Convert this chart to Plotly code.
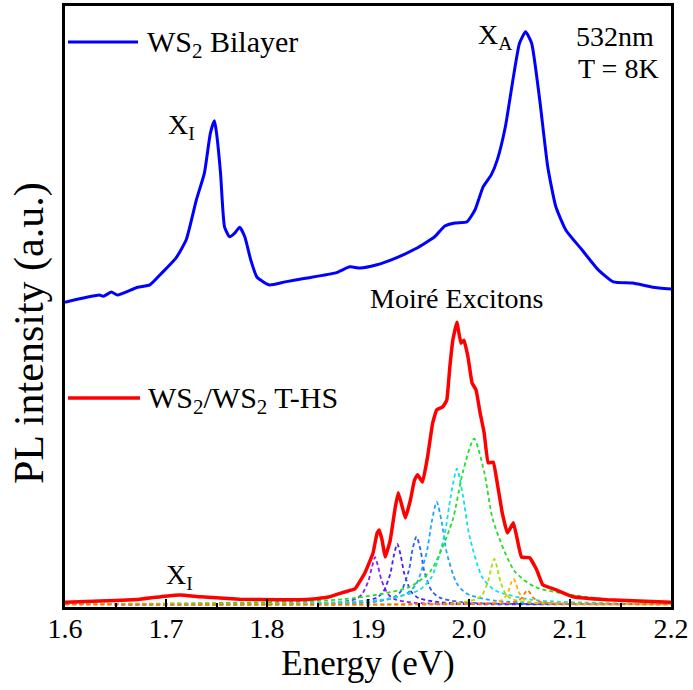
import plotly.graph_objects as go

# ---------------- data ----------------
bilayer_E = [1.600, 1.618, 1.634, 1.638, 1.646, 1.652, 1.672, 1.684, 1.696, 1.710,
             1.720, 1.730, 1.738, 1.744, 1.748, 1.750, 1.754, 1.758, 1.763, 1.768,
             1.773, 1.778, 1.784, 1.790, 1.802, 1.818, 1.838, 1.868, 1.882, 1.892,
             1.908, 1.928, 1.947, 1.966, 1.976, 1.986, 1.998, 2.006, 2.014, 2.022,
             2.028, 2.036, 2.043, 2.050, 2.056, 2.062, 2.070, 2.078, 2.086, 2.096,
             2.112, 2.128, 2.143, 2.162, 2.182, 2.200]
bilayer_I = [50.7, 51.4, 51.9, 51.7, 52.4, 51.9, 53.2, 53.6, 55.6, 58.1,
             61.1, 67.7, 72.2, 78.9, 80.9, 78.9, 72.2, 63.2, 61.6, 62.2,
             63.2, 61.6, 57.7, 54.9, 53.6, 54.1, 54.7, 55.6, 56.6, 56.4,
             56.9, 58.1, 59.6, 61.6, 63.4, 63.9, 64.1, 66.1, 69.9, 71.9,
             74.4, 79.9, 87.2, 93.8, 95.7, 93.8, 84.4, 73.2, 66.6, 62.7,
             59.4, 56.1, 54.1, 53.9, 53.2, 52.9]

ths_E = [1.600, 1.635, 1.674, 1.699, 1.714, 1.734, 1.773, 1.813, 1.843, 1.862,
         1.877, 1.887, 1.897, 1.905, 1.909, 1.911, 1.914, 1.917, 1.922, 1.927,
         1.930, 1.934, 1.937, 1.942, 1.946, 1.949, 1.954, 1.959, 1.964, 1.968,
         1.974, 1.978, 1.981, 1.984, 1.988, 1.992, 1.995, 1.999, 2.003, 2.007,
         2.011, 2.015, 2.019, 2.024, 2.028, 2.033, 2.038, 2.044, 2.048, 2.052,
         2.060, 2.067, 2.073, 2.087, 2.103, 2.137, 2.200]
ths_I = [0.8, 1.0, 1.3, 1.8, 2.0, 1.7, 1.3, 1.2, 1.3, 1.7,
         2.5, 3.0, 5.7, 9.0, 12.3, 12.8, 11.1, 8.3, 11.1, 16.6,
         19.0, 16.6, 14.8, 17.8, 21.1, 22.0, 20.8, 25.0, 30.6, 32.8,
         33.3, 34.4, 39.9, 44.4, 47.4, 43.9, 44.4, 41.6, 37.3, 36.1,
         32.3, 29.0, 24.0, 24.1, 20.6, 15.6, 12.3, 14.0, 11.1, 8.3,
         8.2, 6.2, 3.7, 2.8, 1.7, 1.2, 0.8]

# fitted moiré exciton components (dashed)
c1_E = [1.600, 1.868, 1.8875, 1.894, 1.9005, 1.904, 1.907, 1.910, 1.9135, 1.920, 1.9265, 1.946, 2.200]
c1_I = [0.5, 0.7, 1.3, 2.1, 4.4, 6.7, 8.3, 6.7, 4.4, 2.1, 1.3, 0.7, 0.5]
c2_E = [1.600, 1.887, 1.908, 1.915, 1.922, 1.9255, 1.929, 1.9325, 1.936, 1.943, 1.950, 1.971, 2.200]
c2_I = [0.5, 0.8, 1.5, 2.5, 5.5, 8.5, 10.5, 8.5, 5.5, 2.5, 1.5, 0.8, 0.5]
c3_E = [1.600, 1.903, 1.9255, 1.933, 1.9405, 1.944, 1.948, 1.952, 1.9555, 1.963, 1.9705, 1.993, 2.200]
c3_I = [0.5, 0.8, 1.6, 2.7, 6.1, 9.5, 11.7, 9.5, 6.1, 2.7, 1.6, 0.8, 0.5]
c4_E = [1.600, 1.908, 1.938, 1.948, 1.958, 1.963, 1.968, 1.973, 1.978, 1.988, 1.998, 2.028, 2.200]
c4_I = [0.5, 1.0, 2.2, 3.9, 9.0, 14.1, 17.5, 14.1, 9.0, 3.9, 2.2, 1.0, 0.5]
c5_E = [1.600, 1.913, 1.9505, 1.963, 1.9755, 1.982, 1.988, 1.994, 2.0005, 2.013, 2.0255, 2.063, 2.200]
c5_I = [0.5, 1.2, 2.8, 5.0, 11.8, 18.5, 23.0, 18.5, 11.8, 5.0, 2.8, 1.2, 0.5]
c6_E = [1.600, 1.876, 1.9405, 1.962, 1.9835, 1.994, 2.005, 2.015, 2.024, 2.045, 2.066, 2.134, 2.200]
c6_I = [0.5, 1.3, 3.3, 6.0, 14.3, 22.5, 28.0, 22.5, 14.3, 6.0, 3.3, 1.3, 0.6]
c7_E = [1.600, 1.989, 2.007, 2.013, 2.019, 2.022, 2.025, 2.028, 2.031, 2.037, 2.043, 2.061, 2.200]
c7_I = [0.5, 0.7, 1.3, 2.0, 4.3, 6.5, 8.0, 6.5, 4.3, 2.0, 1.3, 0.7, 0.5]
c8_E = [1.600, 2.014, 2.029, 2.034, 2.039, 2.0415, 2.044, 2.0465, 2.049, 2.054, 2.059, 2.074, 2.200]
c8_I = [0.5, 0.6, 0.9, 1.3, 2.6, 3.9, 4.7, 3.9, 2.6, 1.3, 0.9, 0.6, 0.5]
c9_E = [1.600, 2.028, 2.043, 2.048, 2.053, 2.0555, 2.058, 2.0605, 2.063, 2.068, 2.073, 2.088, 2.200]
c9_I = [0.4, 0.55, 0.75, 1.0, 1.65, 2.35, 2.8, 2.35, 1.65, 1.0, 0.75, 0.55, 0.4]

comp_E = [c1_E, c2_E, c3_E, c4_E, c5_E, c6_E, c7_E, c8_E, c9_E]
comp_I = [c1_I, c2_I, c3_I, c4_I, c5_I, c6_I, c7_I, c8_I, c9_I]
comp_colors = ["#8a1cff", "#4a1cff", "#2a5cff", "#1aa6ff", "#10e0e8",
               "#22e022", "#a8e000", "#ffb000", "#ff7010"]

x_ticks = [1.6, 1.7, 1.8, 1.9, 2.0, 2.1, 2.2]
x_tick_text = ["1.6", "1.7", "1.8", "1.9", "2.0", "2.1", "2.2"]

FONT = "Times New Roman, Liberation Serif, serif"

fig = go.Figure()
for E, I, col in zip(comp_E, comp_I, comp_colors):
    fig.add_trace(go.Scatter(x=E, y=I, mode="lines", showlegend=False,
                             line=dict(color=col, width=1.8, dash="4px,3px",
                                       shape="spline", smoothing=0.7)))
fig.add_trace(go.Scatter(x=ths_E, y=ths_I, mode="lines", name="WS2/WS2 T-HS",
                         showlegend=False,
                         line=dict(color="#ff0000", width=3.5, shape="spline", smoothing=0.3)))
fig.add_trace(go.Scatter(x=bilayer_E, y=bilayer_I, mode="lines", name="WS2 Bilayer",
                         showlegend=False,
                         line=dict(color="#0000ff", width=3, shape="spline", smoothing=0.5)))

def px_x(px):
    return (px - 65) / 606

def px_y(py):
    return (607 - py) / 601

# legend-like samples
fig.add_shape(type="line", xref="paper", yref="paper", x0=px_x(68), x1=px_x(138),
              y0=px_y(42), y1=px_y(42), line=dict(color="#0000ff", width=3))
fig.add_shape(type="line", xref="paper", yref="paper", x0=px_x(68), x1=px_x(140),
              y0=px_y(398), y1=px_y(398), line=dict(color="#ff0000", width=3.5))

ann = [
    ("WS<sub>2</sub> Bilayer", px_x(145), px_y(44), "left", 30),
    ("WS<sub>2</sub>/WS<sub>2</sub> T-HS", px_x(146), px_y(400), "left", 30),
    ("X<sub>I</sub>", px_x(181), px_y(126), "center", 28),
    ("X<sub>I</sub>", px_x(179), px_y(576), "center", 28),
    ("X<sub>A</sub>", px_x(495), px_y(37), "center", 28),
    ("532nm", px_x(574), px_y(37), "left", 28),
    ("T = 8K", px_x(576), px_y(68), "left", 28),
    ("Moiré Excitons", px_x(457), px_y(298), "center", 28),
]
for txt, x, y, xa, sz in ann:
    fig.add_annotation(text=txt, x=x, y=y, xref="paper", yref="paper",
                       xanchor=xa, yanchor="middle", showarrow=False,
                       font=dict(family=FONT, size=sz, color="black"))

# y-axis title (placed as rotated text to match the reference position)
fig.add_annotation(text="PL intensity (a.u.)", x=px_x(29), y=px_y(333),
                   xref="paper", yref="paper", xanchor="center", yanchor="middle",
                   textangle=-90, showarrow=False,
                   font=dict(family=FONT, size=42, color="black"))

fig.update_layout(
    width=693, height=690,
    margin=dict(l=65, r=22, t=6, b=83),
    paper_bgcolor="white", plot_bgcolor="white",
    font=dict(family=FONT, color="black"),
    showlegend=False,
    xaxis=dict(range=[1.6, 2.2], tickvals=x_ticks, ticktext=x_tick_text,
               ticks="inside", ticklen=8, tickwidth=2, tickcolor="black",
               minor=dict(ticks="inside", ticklen=4, tickwidth=2, dtick=0.05,
                          tickcolor="black"),
               showline=True, linecolor="black", linewidth=2.5, mirror=True,
               showgrid=False, zeroline=False, automargin=False,
               ticklabelstandoff=-5,
               tickfont=dict(family=FONT, size=28, color="black"),
               title=dict(text="Energy (eV)", standoff=6,
                          font=dict(family=FONT, size=35, color="black"))),
    yaxis=dict(range=[0, 100], showticklabels=False, ticks="",
               showline=True, linecolor="black", linewidth=2.5, mirror=True,
               showgrid=False, zeroline=False, automargin=False),
)

fig.write_html("out.html", config={"displayModeBar": False},
               post_script="document.body.style.margin='0px';")
